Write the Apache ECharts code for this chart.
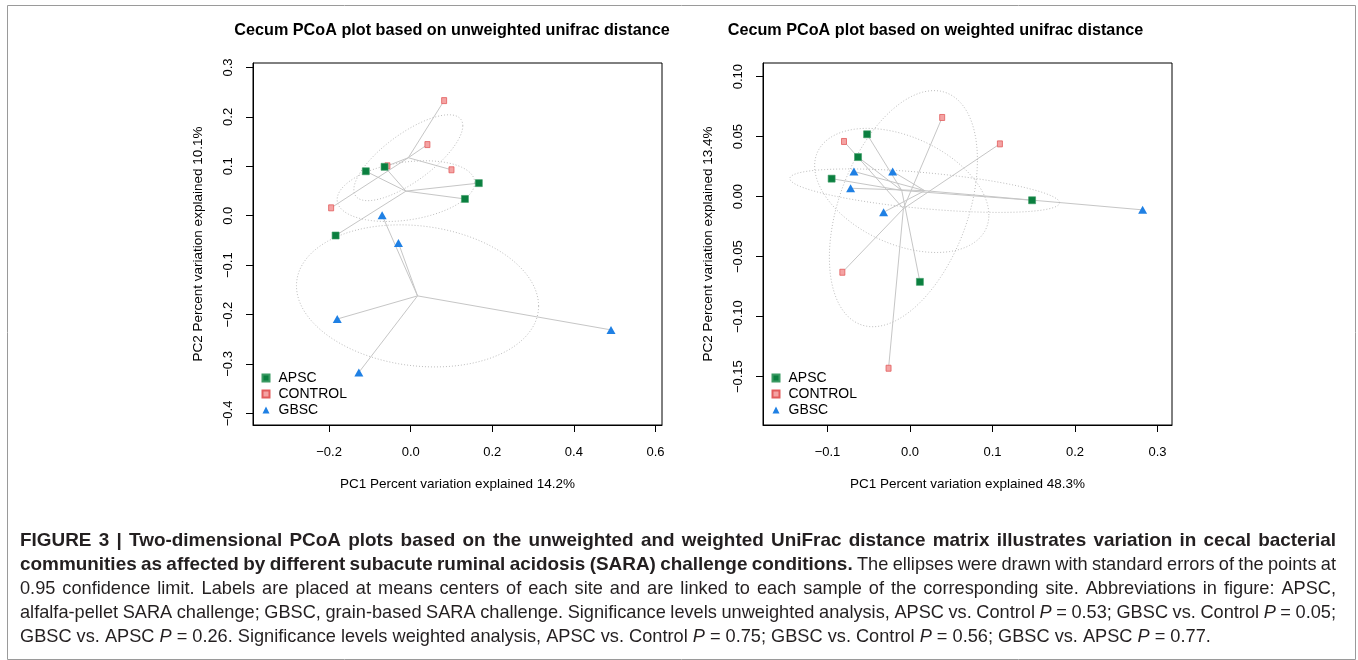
<!DOCTYPE html>
<html><head><meta charset="utf-8">
<script src="https://cdn.jsdelivr.net/npm/echarts@6/dist/echarts.min.js"></script>
<style>html,body{margin:0;padding:0;background:#fff}#c{width:1358px;height:660px}</style>
</head><body><div id="c"></div>
<script>
// ---- data ----
const groups = ['APSC', 'CONTROL', 'GBSC'];
// unweighted UniFrac (left panel): [PC1, PC2]
const unwApsc    = [[-0.110, 0.090], [-0.064, 0.099], [0.167, 0.066], [0.133, 0.034], [-0.184, -0.040]];
const unwControl = [[0.082, 0.233], [0.041, 0.144], [0.100, 0.093], [-0.195, 0.016], [-0.057, 0.101]];
const unwGbsc    = [[-0.070, 0.001], [-0.030, -0.055], [-0.180, -0.209], [0.491, -0.231], [-0.127, -0.317]];
// weighted UniFrac (right panel)
const wApsc    = [[-0.052, 0.052], [-0.063, 0.033], [-0.095, 0.015], [0.148, -0.003], [0.012, -0.071]];
const wControl = [[0.039, 0.066], [0.109, 0.044], [-0.080, 0.046], [-0.082, -0.063], [-0.026, -0.143]];
const wGbsc    = [[-0.068, 0.021], [-0.021, 0.021], [-0.072, 0.007], [-0.032, -0.013], [0.282, -0.011]];
// tick labels
const unwXTicks = [-0.2, 0, 0.2, 0.4, 0.6];
const unwYTicks = [-0.4, -0.3, -0.2, -0.1, 0, 0.1, 0.2, 0.3];
const wXTicks = [-0.1, 0, 0.1, 0.2, 0.3];
const wYTicks = [-0.15, -0.1, -0.05, 0, 0.05, 0.1];
const titles = ['Cecum PCoA plot based on unweighted unifrac distance', 'Cecum PCoA plot based on weighted unifrac distance'];
const xNames = ['PC1 Percent variation explained 14.2%', 'PC1 Percent variation explained 48.3%'];
const yNames = ['PC2 Percent variation explained 10.1%', 'PC2 Percent variation explained 13.4%'];
// caption: runs of [text, style]  (b = bold, r = regular, i = italic)
const captionLines = [
  [['FIGURE 3 | Two-dimensional PCoA plots based on the unweighted and weighted UniFrac distance matrix illustrates variation in cecal bacterial', 'b']],
  [['communities as affected by different subacute ruminal acidosis (SARA) challenge conditions.', 'b'], [' The ellipses were drawn with standard errors of the points at', 'r']],
  [['0.95 confidence limit. Labels are placed at means centers of each site and are linked to each sample of the corresponding site. Abbreviations in figure: APSC,', 'r']],
  [['alfalfa-pellet SARA challenge; GBSC, grain-based SARA challenge. Significance levels unweighted analysis, APSC vs. Control ', 'r'], ['P', 'i'], [' = 0.53; GBSC vs. Control ', 'r'], ['P', 'i'], [' = 0.05;', 'r']],
  [['GBSC vs. APSC ', 'r'], ['P', 'i'], [' = 0.26. Significance levels weighted analysis, APSC vs. Control ', 'r'], ['P', 'i'], [' = 0.75; GBSC vs. Control ', 'r'], ['P', 'i'], [' = 0.56; GBSC vs. APSC ', 'r'], ['P', 'i'], [' = 0.77.', 'r']]
];

// ---- helpers ----
const colors = { APSC: '#0a7f3f', CONTROL: '#f4a3a3', GBSC: '#1f80e4' };
const FONT = '"Liberation Sans", Arial, Helvetica, sans-serif';
function centroid(p) {
  let sx = 0, sy = 0; p.forEach(d => { sx += d[0]; sy += d[1]; });
  return [sx / p.length, sy / p.length];
}
// standard-error ellipse at 0.95 confidence (as vegan::ordiellipse kind="se")
function seEllipse(p) {
  const n = p.length, c = centroid(p);
  let xx = 0, yy = 0, xy = 0;
  p.forEach(d => { const dx = d[0] - c[0], dy = d[1] - c[1]; xx += dx * dx; yy += dy * dy; xy += dx * dy; });
  xx /= (n - 1) * n; yy /= (n - 1) * n; xy /= (n - 1) * n;
  const a = Math.sqrt(xx), b = xy / a, cc = Math.sqrt(Math.max(yy - b * b, 0));
  const t = Math.sqrt(5.991464547);
  const out = [];
  for (let i = 0; i <= 120; i++) {
    const th = i / 120 * 2 * Math.PI, co = Math.cos(th), si = Math.sin(th);
    out.push([c[0] + t * co * a, c[1] + t * (co * b + si * cc)]);
  }
  return out;
}
function fmt(dec) { return v => (v < 0 ? '\u2212' : '') + Math.abs(v).toFixed(dec); }

const panels = [
  { sets: { APSC: unwApsc, CONTROL: unwControl, GBSC: unwGbsc } },
  { sets: { APSC: wApsc, CONTROL: wControl, GBSC: wGbsc } }
];

function decorSeries(pi) {
  const sets = panels[pi].sets;
  return {
    type: 'custom', xAxisIndex: pi, yAxisIndex: pi, silent: true, z: 1,
    data: groups.map((g, i) => [i]),
    encode: { x: -1, y: -1 },
    renderItem: function (params, api) {
      const g = groups[api.value(0)];
      const pts = sets[g];
      const c = api.coord(centroid(pts));
      const children = pts.map(d => {
        const q = api.coord(d);
        return { type: 'line', shape: { x1: c[0], y1: c[1], x2: q[0], y2: q[1] },
          style: { stroke: '#c6c6c6', lineWidth: 1 } };
      });
      children.push({ type: 'polyline', shape: { points: seEllipse(pts).map(d => api.coord(d)) },
        style: { stroke: '#bdbdbd', fill: null, lineWidth: 1, lineDash: [1, 2] } });
      return { type: 'group', children: children };
    }
  };
}
function pointSeries(pi, g) {
  const base = { type: 'scatter', name: g, xAxisIndex: pi, yAxisIndex: pi, data: panels[pi].sets[g],
    itemStyle: { color: colors[g], opacity: 1 }, emphasis: { disabled: true }, z: 3 };
  if (g === 'APSC') { base.symbol = 'rect'; base.symbolSize = 7; base.itemStyle.borderColor = '#3a9a63'; base.itemStyle.borderWidth = 0.6; }
  if (g === 'CONTROL') { base.symbol = 'rect'; base.symbolSize = [5, 6]; base.itemStyle.borderColor = '#e25c5c'; base.itemStyle.borderWidth = 0.8; base.z = 2; }
  if (g === 'GBSC') { base.symbol = 'triangle'; base.symbolSize = [9, 8]; }
  return base;
}

// caption layout (justified like the reference)
const CAP_SIZE = 18.2;
const capFonts = { b: 'bold ' + CAP_SIZE + 'px ' + FONT, r: CAP_SIZE + 'px ' + FONT, i: 'italic ' + CAP_SIZE + 'px ' + FONT };
const capScale = { b: 1.04, r: 1, i: 1 };
function captionGraphics() {
  const ctx = document.createElement('canvas').getContext('2d');
  const out = [];
  const wOf = (t, st) => { ctx.font = capFonts[st]; return ctx.measureText(t).width * capScale[st]; };
  captionLines.forEach((runs, li) => {
    const words = []; let cur = [];
    runs.forEach(([txt, st]) => {
      const parts = txt.split(' ');
      parts.forEach((p, k) => {
        if (k > 0) { if (cur.length) words.push(cur); cur = []; }
        if (p.length) cur.push([p, st]);
      });
    });
    if (cur.length) words.push(cur);
    const widths = words.map(w => w.reduce((s, [t, st]) => s + wOf(t, st), 0));
    const sp = wOf(' ', 'r');
    const total = widths.reduce((a, b) => a + b, 0);
    const justify = li < captionLines.length - 1;
    const gap = justify ? (1316 - total) / (words.length - 1) : sp;
    let x = 20; const y = 541 + li * 24;
    words.forEach((w, wi) => {
      let xx = x;
      w.forEach(([t, st]) => {
        out.push({ type: 'text', x: xx, y: y, scaleX: capScale[st], silent: true,
          style: { text: t, font: capFonts[st], fill: '#231f20', verticalAlign: 'middle', textVerticalAlign: 'middle' } });
        xx += wOf(t, st);
      });
      x += widths[wi] + gap;
    });
  });
  return out;
}

const grids = [
  { left: 253, top: 63, width: 409, height: 362 },
  { left: 763, top: 63, width: 409, height: 362 }
];
const xr = [[-0.3865, 0.616], [-0.1782, 0.3176]];
const yr = [[-0.4235, 0.3091], [-0.1903, 0.1114]];
const xt = [unwXTicks, wXTicks], yt = [unwYTicks, wYTicks];
const xd = [1, 1], yd = [1, 2];

const option = {
  animation: false,
  backgroundColor: '#fff',
  textStyle: { fontFamily: FONT },
  title: titles.map((t, i) => ({
    text: t, left: i === 0 ? 452 : 935.5, top: 23, textAlign: 'center', padding: 0,
    textStyle: { fontFamily: FONT, fontSize: 16.2, fontWeight: 'bold', color: '#000' }
  })),
  legend: [0, 1].map(i => ({
    data: groups, orient: 'vertical', left: grids[i].left + 8.5, top: 370, padding: 0,
    itemWidth: 7, itemHeight: 7, itemGap: 0, selectedMode: false,
    textStyle: { fontFamily: FONT, fontSize: 14, color: '#000', lineHeight: 16, padding: [0, 0, 0, 4] }
  })),
  grid: grids.map(g => Object.assign({ show: true, borderColor: '#000', borderWidth: 1, backgroundColor: '#fff' }, g)),
  xAxis: [0, 1].map(i => ({
    type: 'value', gridIndex: i, min: xr[i][0], max: xr[i][1],
    name: xNames[i], nameLocation: 'middle', nameGap: 52,
    nameTextStyle: { fontFamily: FONT, fontSize: 13.5, color: '#000' },
    axisLine: { show: true, onZero: false, lineStyle: { color: '#000', width: 1 } },
    axisTick: { show: true, inside: false, length: 7, customValues: xt[i], lineStyle: { color: '#000' } },
    axisLabel: { customValues: xt[i], formatter: fmt(xd[i]), margin: 21, fontFamily: FONT, fontSize: 13, color: '#000' },
    splitLine: { show: false }
  })),
  yAxis: [0, 1].map(i => ({
    type: 'value', gridIndex: i, min: yr[i][0], max: yr[i][1],
    name: yNames[i], nameLocation: 'middle', nameGap: 48, nameRotate: 90,
    nameTextStyle: { fontFamily: FONT, fontSize: 13.5, color: '#000' },
    axisLine: { show: true, onZero: false, lineStyle: { color: '#000', width: 1 } },
    axisTick: { show: true, inside: false, length: 7, customValues: yt[i], lineStyle: { color: '#000' } },
    axisLabel: { customValues: yt[i], formatter: fmt(yd[i]), rotate: 90, margin: 18, fontFamily: FONT, fontSize: 13, color: '#000' },
    splitLine: { show: false }
  })),
  series: [
    decorSeries(0), decorSeries(1),
    pointSeries(0, 'CONTROL'), pointSeries(0, 'APSC'), pointSeries(0, 'GBSC'),
    pointSeries(1, 'CONTROL'), pointSeries(1, 'APSC'), pointSeries(1, 'GBSC')
  ],
  graphic: [
    { type: 'rect', left: 5, top: 3, shape: { width: 1348, height: 654 }, style: { fill: null, stroke: '#9a9a9a', lineWidth: 1 }, silent: true }
  ].concat(captionGraphics())
};
const chart = echarts.init(document.getElementById('c'), null, { renderer: 'canvas' });
chart.setOption(option);
</script>
</body></html>
